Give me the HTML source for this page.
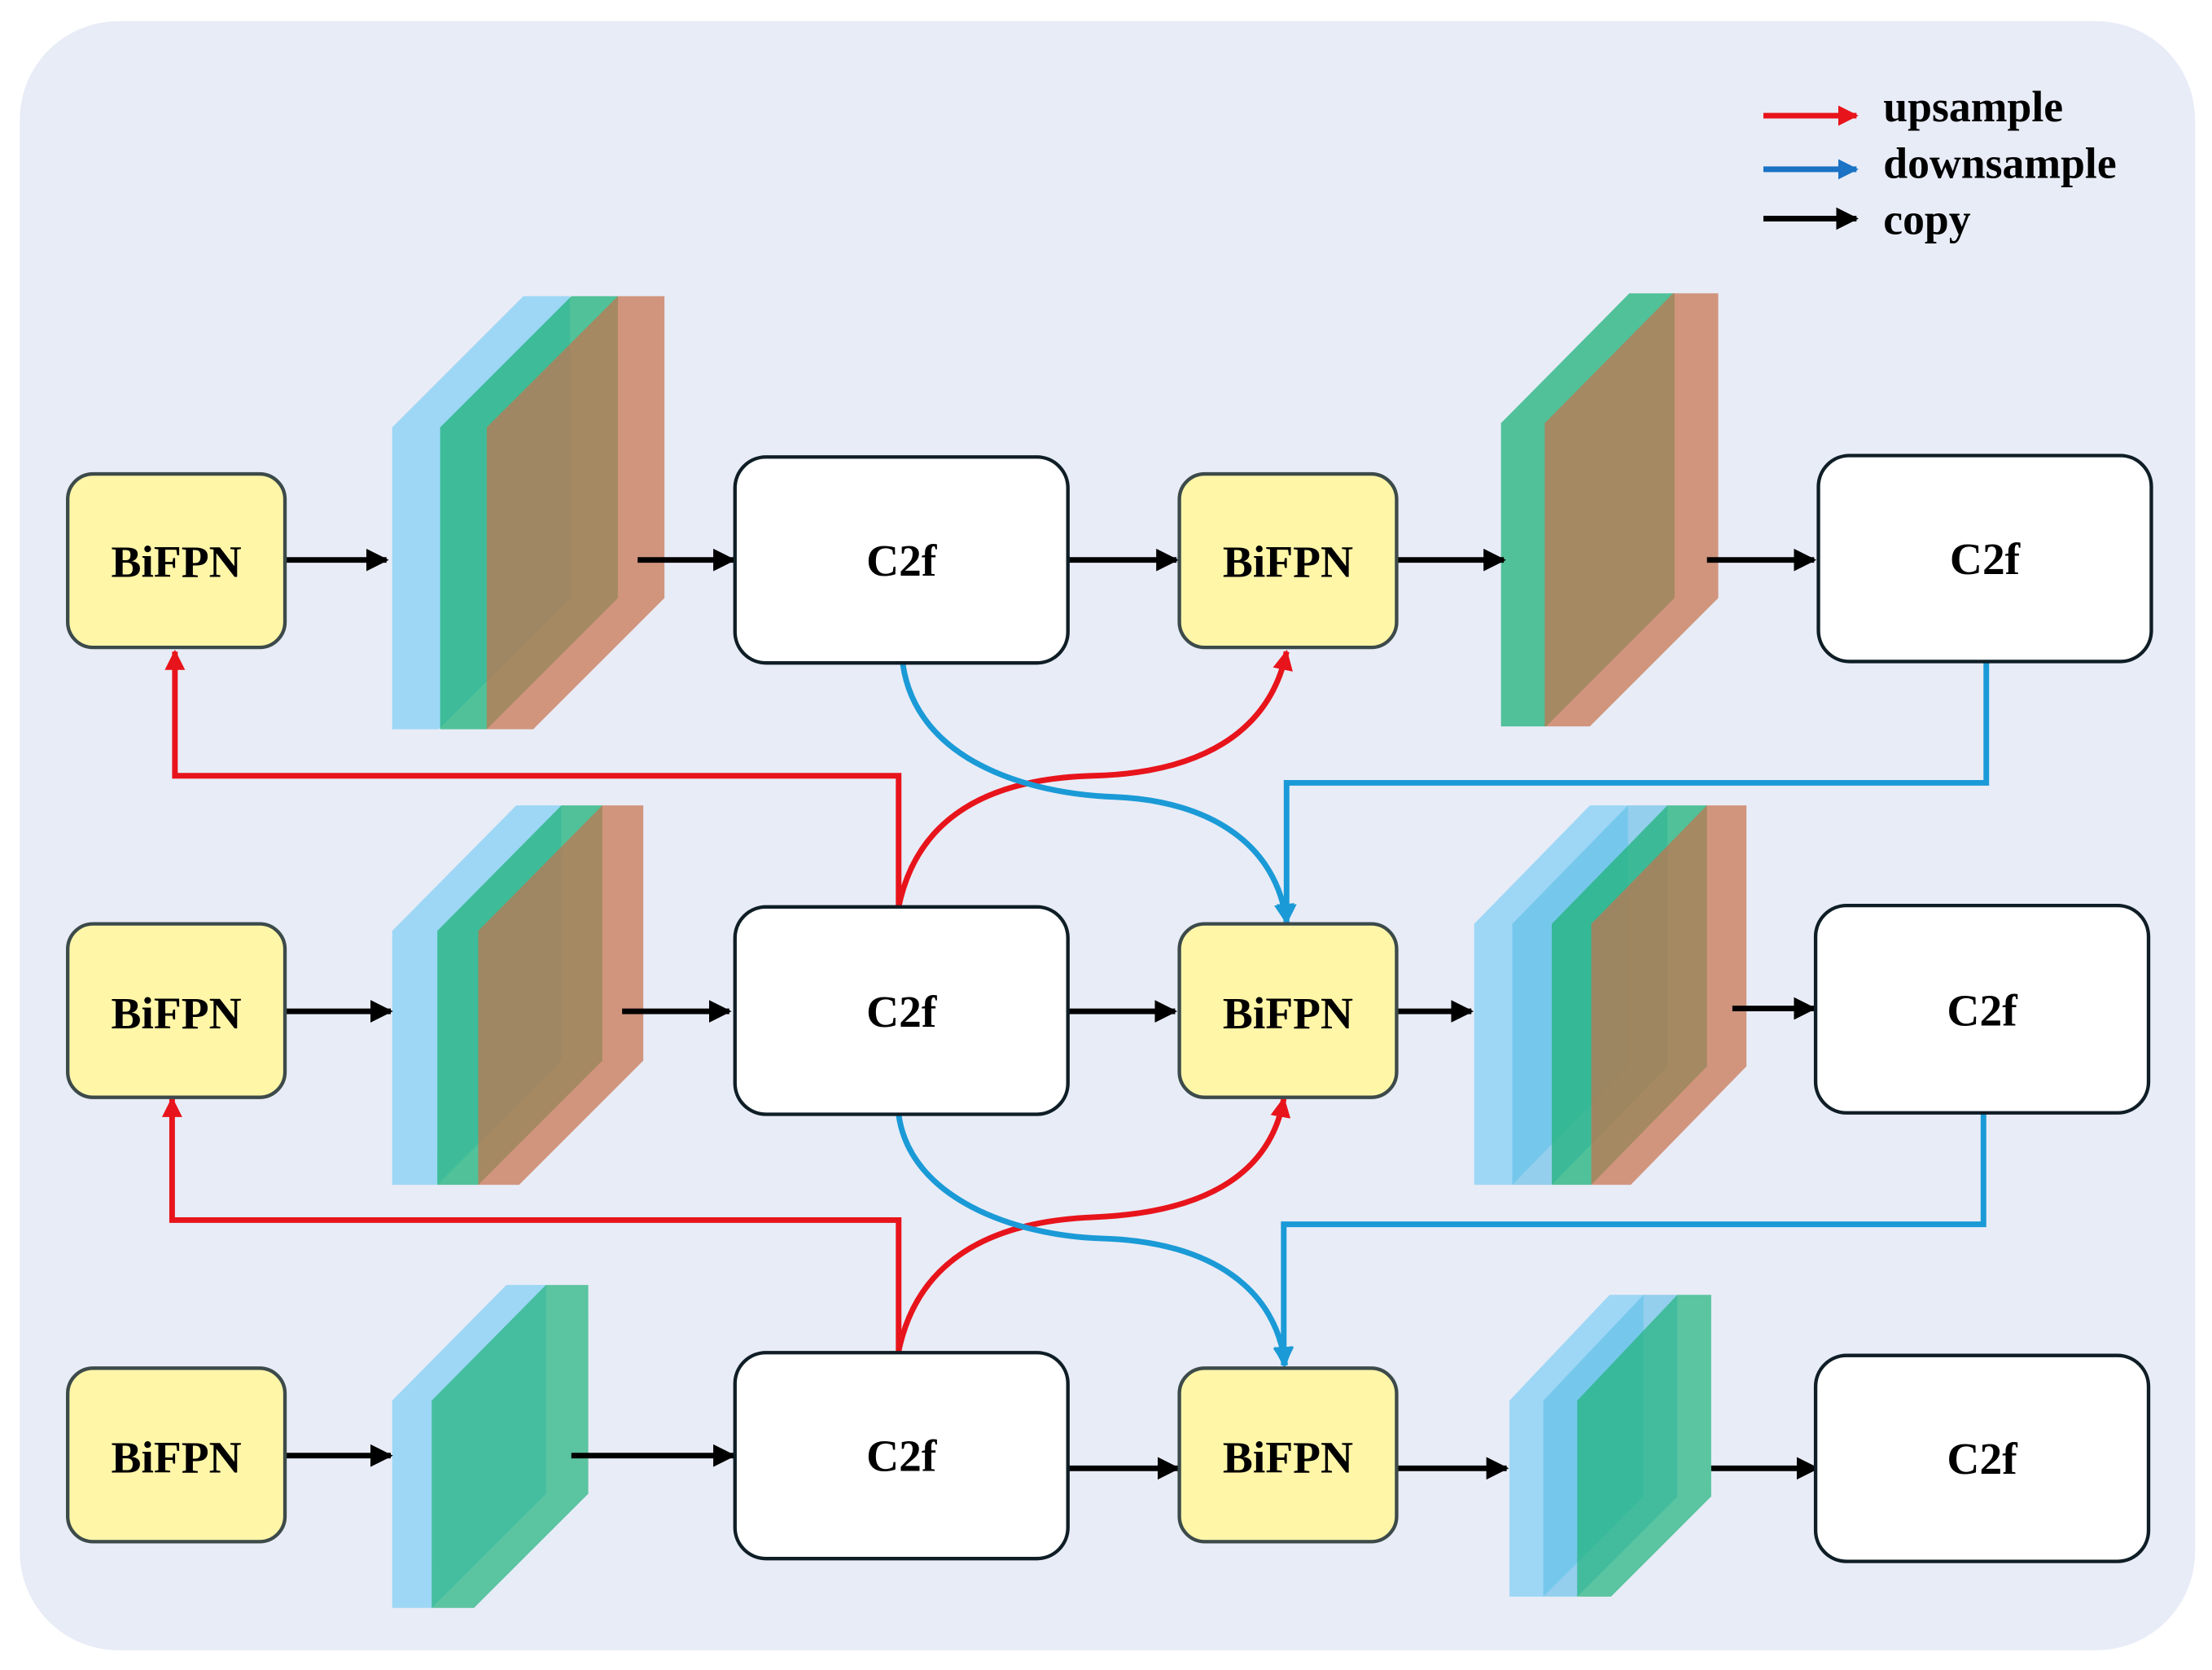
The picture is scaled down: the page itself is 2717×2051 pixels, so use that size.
<!DOCTYPE html>
<html><head><meta charset="utf-8"><style>
html,body{margin:0;padding:0;background:#fff;}
svg{display:block;}
text{font-family:"Liberation Serif",serif;font-weight:bold;}
</style></head><body>
<svg width="2717" height="2051" viewBox="0 0 1568 1184" preserveAspectRatio="none" xmlns="http://www.w3.org/2000/svg">
<defs>
<marker id="ak" viewBox="0 0 10 10" refX="9" refY="5" markerWidth="4" markerHeight="4" orient="auto" markerUnits="strokeWidth"><path d="M0 0L10 5L0 10z" fill="#000"/></marker>
<marker id="ar" viewBox="0 0 10 10" refX="9" refY="5" markerWidth="3.6" markerHeight="3.6" orient="auto" markerUnits="strokeWidth"><path d="M0 0L10 5L0 10z" fill="#e8141b"/></marker>
<marker id="ab" viewBox="0 0 10 10" refX="9" refY="5" markerWidth="3.6" markerHeight="3.6" orient="auto" markerUnits="strokeWidth"><path d="M0 0L10 5L0 10z" fill="#1a9ad6"/></marker>
<marker id="ab2" viewBox="0 0 10 10" refX="9" refY="5" markerWidth="3.6" markerHeight="3.6" orient="auto" markerUnits="strokeWidth"><path d="M0 0L10 5L0 10z" fill="#1a73c4"/></marker>
</defs>
<rect x="14" y="15" width="1542" height="1155" rx="70" fill="#e8ecf7"/>

<g stroke-width="4" fill="none">
<line x1="1250" y1="82" x2="1316" y2="82" stroke="#e8141b" marker-end="url(#ar)"/>
<line x1="1250" y1="120" x2="1316" y2="120" stroke="#1a73c4" marker-end="url(#ab2)"/>
<line x1="1250" y1="155" x2="1316" y2="155" stroke="#000" marker-end="url(#ak)"/>
</g>
<text x="1335" y="86" font-size="31">upsample</text>
<text x="1335" y="126" font-size="31">downsample</text>
<text x="1335" y="166" font-size="31">copy</text>

<g>
<polygon points="278,303 371,210 404,210 404,424 311,517 278,517" fill="#8fd3f4" fill-opacity="0.85"/>
<polygon points="312,303 405,210 438,210 438,424 345,517 312,517" fill="#1fb37a" fill-opacity="0.75"/>
<polygon points="345,303 438,210 471,210 471,424 378,517 345,517" fill="#c8704a" fill-opacity="0.7"/>
<polygon points="1064,300 1155,208 1187,208 1187,424 1096,515 1064,515" fill="#1fb37a" fill-opacity="0.75"/>
<polygon points="1095,300 1186,208 1218,208 1218,424 1127,515 1095,515" fill="#c8704a" fill-opacity="0.7"/>
<polygon points="278,660 366,571 398,571 398,752 310,840 278,840" fill="#8fd3f4" fill-opacity="0.85"/>
<polygon points="310,660 398,571 427,571 427,752 339,840 310,840" fill="#1fb37a" fill-opacity="0.75"/>
<polygon points="339,660 427,571 456,571 456,752 368,840 339,840" fill="#c8704a" fill-opacity="0.7"/>
<polygon points="1045,655 1127,571 1154,571 1154,756 1072,840 1045,840" fill="#8fd3f4" fill-opacity="0.85"/>
<polygon points="1072,655 1154,571 1182,571 1182,756 1100,840 1072,840" fill="#5cbce6" fill-opacity="0.6"/>
<polygon points="1100,655 1182,571 1210,571 1210,756 1128,840 1100,840" fill="#1fb37a" fill-opacity="0.75"/>
<polygon points="1128,655 1210,571 1238,571 1238,756 1156,840 1128,840" fill="#c8704a" fill-opacity="0.7"/>
<polygon points="278,993 359,911 387,911 387,1059 306,1140 278,1140" fill="#8fd3f4" fill-opacity="0.85"/>
<polygon points="306,993 387,911 417,911 417,1059 336,1140 306,1140" fill="#1fb37a" fill-opacity="0.7"/>
<polygon points="1070,993 1141,918 1165,918 1165,1061 1094,1132 1070,1132" fill="#8fd3f4" fill-opacity="0.85"/>
<polygon points="1094,993 1165,918 1189,918 1189,1061 1118,1132 1094,1132" fill="#5cbce6" fill-opacity="0.6"/>
<polygon points="1118,993 1189,918 1213,918 1213,1061 1142,1132 1118,1132" fill="#1fb37a" fill-opacity="0.7"/>
</g>

<g fill="none" stroke="#e8141b" stroke-width="4">
<path d="M637 643 L637 550 L124 550 L124 462" marker-end="url(#ar)"/>
<path d="M637 643 C650 580 700 552 775 550 C850 548 900 520 912 462" marker-end="url(#ar)"/>
<path d="M637 958 L637 865 L122 865 L122 779" marker-end="url(#ar)"/>
<path d="M637 958 C650 895 700 866 775 863 C850 860 900 835 910 779" marker-end="url(#ar)"/>
</g>
<g fill="none" stroke="#1a9ad6" stroke-width="4">
<path d="M640 471 C650 540 730 563 790 565 C860 568 905 600 912 654" marker-end="url(#ab)"/>
<path d="M1408 470 L1408 555 L912 555 L912 654" marker-end="url(#ab)"/>
<path d="M637 790 C645 850 720 876 780 878 C860 880 905 915 911 968" marker-end="url(#ab)"/>
<path d="M1406 789 L1406 868 L910 868 L910 968" marker-end="url(#ab)"/>
</g>

<g stroke="#000" stroke-width="4" marker-end="url(#ak)">
<line x1="202" y1="397" x2="274" y2="397"/>
<line x1="452" y1="397" x2="520" y2="397"/>
<line x1="757" y1="397" x2="834" y2="397"/>
<line x1="990" y1="397" x2="1066" y2="397"/>
<line x1="1210" y1="397" x2="1286" y2="397"/>
<line x1="202" y1="717" x2="277" y2="717"/>
<line x1="441" y1="717" x2="517" y2="717"/>
<line x1="757" y1="717" x2="833" y2="717"/>
<line x1="990" y1="717" x2="1043" y2="717"/>
<line x1="1228" y1="715" x2="1286" y2="715"/>
<line x1="202" y1="1032" x2="277" y2="1032"/>
<line x1="405" y1="1032" x2="520" y2="1032"/>
<line x1="757" y1="1041" x2="835" y2="1041"/>
<line x1="990" y1="1041" x2="1068" y2="1041"/>
<line x1="1213" y1="1041" x2="1288" y2="1041"/>
</g>

<g stroke="#3c4a4a" stroke-width="2.5">
<rect x="48" y="336" width="154" height="123" rx="18" fill="#fff6a8"/>
<rect x="836" y="336" width="154" height="123" rx="18" fill="#fff6a8"/>
<rect x="48" y="655" width="154" height="123" rx="18" fill="#fff6a8"/>
<rect x="836" y="655" width="154" height="123" rx="18" fill="#fff6a8"/>
<rect x="48" y="970" width="154" height="123" rx="18" fill="#fff6a8"/>
<rect x="836" y="970" width="154" height="123" rx="18" fill="#fff6a8"/>
</g>
<g stroke="#0f1e26" stroke-width="2.5" fill="#fff">
<rect x="521" y="324" width="236" height="146" rx="22"/>
<rect x="1289" y="323" width="236" height="146" rx="22"/>
<rect x="521" y="643" width="236" height="147" rx="22"/>
<rect x="1287" y="642" width="236" height="147" rx="22"/>
<rect x="521" y="959" width="236" height="146" rx="22"/>
<rect x="1287" y="961" width="236" height="146" rx="22"/>
</g>
<g font-size="32" text-anchor="middle">
<text x="125" y="409">BiFPN</text>
<text x="913" y="409">BiFPN</text>
<text x="125" y="729">BiFPN</text>
<text x="913" y="729">BiFPN</text>
<text x="125" y="1044">BiFPN</text>
<text x="913" y="1044">BiFPN</text>
</g>
<g font-size="32" text-anchor="middle">
<text x="639" y="408">C2f</text>
<text x="1407" y="407">C2f</text>
<text x="639" y="728">C2f</text>
<text x="1405" y="727">C2f</text>
<text x="639" y="1043">C2f</text>
<text x="1405" y="1045">C2f</text>
</g>
</svg>
</body></html>
